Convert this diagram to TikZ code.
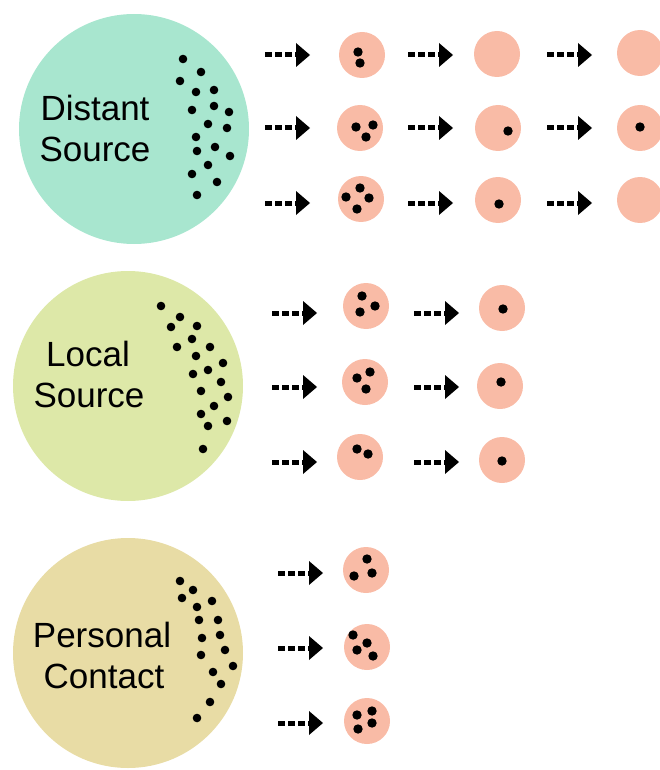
\documentclass[tikz,border=0pt]{standalone}
\usepackage{fontspec}
\setmainfont{Liberation Sans}
\definecolor{mint}{RGB}{168,230,207}
\definecolor{lime}{RGB}{221,232,168}
\definecolor{tan}{RGB}{232,220,165}
\definecolor{salmon}{RGB}{249,187,166}
\newcommand\bdots[1]{\foreach \a/\b in {#1} \fill (\a,\b) circle (4.3pt);}
\newcommand\sdots[1]{\foreach \a/\b in {#1} \fill (\a,\b) circle (4.7pt);}
\newcommand\darr[2]{%
  \coordinate (s) at (#1,#2);
  \draw[shaft] (s) -- ++(33,0);
  \fill (#1+31,#2-12) -- (#1+45,#2) -- (#1+31,#2+12) -- cycle;}
\begin{document}
\begin{tikzpicture}[x=1pt,y=-1pt,
  bigc/.style={circle,inner sep=0pt,minimum size=230pt},
  smallc/.style={circle,fill=salmon,inner sep=0pt,minimum size=46pt},
  lbl/.style={anchor=base,font=\fontsize{35}{40}\selectfont,inner sep=0pt},
  shaft/.style={line width=5pt,dash pattern=on 7pt off 3pt}]
\useasboundingbox (0,0) rectangle (660,770);
% big circles
\node[bigc,fill=mint] (ds) at (134,129) {};
\node[bigc,fill=lime] (ls) at (128,386) {};
\node[bigc,fill=tan]  (pc) at (128,653) {};
% labels
\node[lbl] (ds1) at (95,121) {Distant};
\node[lbl] (ds2) at (95,161) {Source};
\node[lbl] (ls1) at (88,366) {Local};
\node[lbl] (ls2) at (89,407) {Source};
\node[lbl] (pc1) at (102,647) {Personal};
\node[lbl] (pc2) at (104,688) {Contact};
% dots in big circles
\bdots{183/59,201/72,180/81,196/92,214/90,192/110,214/106,229/112,208/124,227/128,196/137,215/147,197/151,230/156,208/165,192/174,217/182,197/195}
\bdots{161/306,180/317,171/327,197/326,192/339,177/347,210/347,196/356,223/363,208/370,193/374,221/382,201/391,228/397,214/406,201/414,208/426,227/421,203/449}
\bdots{180/581,193/590,182/598,197/607,212/601,199/620,218/620,202/638,220/635,225/650,201/655,233/666,213/672,221/684,210/702,197/718}
% distant source rows
\darr{265}{55}\darr{408}{55}\darr{547}{55}
\darr{265}{128}\darr{408}{128}\darr{547}{128}
\darr{265}{203}\darr{408}{203}\darr{547}{203}
\node[smallc] (d11) at (362,55) {};
\node[smallc] (d12) at (497,54) {};
\node[smallc] (d13) at (640,53) {};
\node[smallc] (d21) at (360,128) {};
\node[smallc] (d22) at (498,128) {};
\node[smallc] (d23) at (640,128) {};
\node[smallc] (d31) at (361,199) {};
\node[smallc] (d32) at (498,200) {};
\node[smallc] (d33) at (640,200) {};
\sdots{358/52,360/63}
\sdots{356/127,373/125,366/137,508/131,640/127}
\sdots{360/188,346/197,369/198,357/209,499/204}
% local source rows
\darr{272}{313}\darr{414}{313}
\darr{272}{387}\darr{414}{387}
\darr{272}{462}\darr{414}{462}
\node[smallc] (l11) at (366,306) {};
\node[smallc] (l12) at (502,308) {};
\node[smallc] (l21) at (365,382) {};
\node[smallc] (l22) at (500,386) {};
\node[smallc] (l31) at (360,457) {};
\node[smallc] (l32) at (502,460) {};
\sdots{362/296,360/312,375/306,503/309}
\sdots{357/378,370/372,366/389,501/382}
\sdots{357/449,368/454,502/461}
% personal contact rows
\darr{278}{573}
\darr{278}{648}
\darr{278}{723}
\node[smallc] (p1) at (366,570) {};
\node[smallc] (p2) at (367,647) {};
\node[smallc] (p3) at (367,721) {};
\sdots{367/559,354/576,372/573}
\sdots{353/635,367/643,357/650,373/656}
\sdots{357/715,372/711,372/723,358/729}
\end{tikzpicture}
\end{document}
